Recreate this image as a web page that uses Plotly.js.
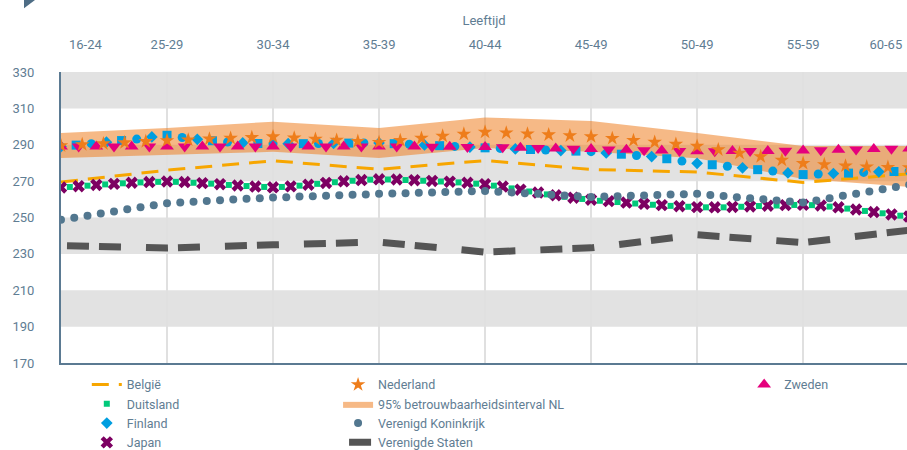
<!DOCTYPE html>
<html><head><meta charset="utf-8">
<script src="https://cdn.plot.ly/plotly-3.0.1.min.js"></script>
<style>html,body{margin:0;padding:0;background:#fff}#chart{width:907px;height:450px}</style>
</head><body><div id="chart"></div>
<script>
// Age groups (x axis, positions 0..8)
const ageGroups = ['16-24','25-29','30-34','35-39','40-44','45-49','50-49','55-59','60-65'];
const yTicks = [170,190,210,230,250,270,290,310,330];

// Series read at the age-group points
const belgie = [269.5, 276.0, 281.2, 276.5, 281.3, 276.4, 275.0, 269.3, 274.0];
const verenigdeStaten = [234.6, 233.2, 235.0, 236.5, 231.0, 233.3, 240.5, 236.2, 243.0];
const nlUpper = [296.5, 299.2, 302.7, 299.2, 305.0, 303.0, 296.5, 289.3, 289.3];
const nlLower = [282.7, 284.6, 286.1, 282.7, 288.2, 286.2, 282.6, 271.2, 266.8];

// Series read along their marker rows
const nederland = [289.5, 290.1, 290.6, 291.2, 291.8, 292.3, 292.7, 293.2, 293.6, 294.0, 294.4,
  293.8, 293.1, 292.5, 291.9, 291.3, 292.4, 293.6, 294.8, 295.9, 297.0,
  296.5, 296.0, 295.5, 295.0, 294.5, 293.5, 292.4, 291.4, 290.3, 289.2,
  287.3, 285.4, 283.5, 281.6, 279.8, 279.1, 278.4, 277.9, 277.6, 277.4];
const zweden = [289.0, 289.1, 289.1, 289.1, 289.0, 289.0, 289.0,
  289.0, 289.0, 289.0, 289.0, 289.0, 289.0,
  289.0, 289.0, 289.1, 289.1, 289.0, 289.0,
  289.0, 289.0, 288.9, 288.9, 288.8, 288.8,
  288.6, 288.4, 288.2, 288.0, 287.8, 287.6,
  287.4, 287.2, 287.0, 286.8, 286.6, 286.4,
  286.4, 286.5, 286.6, 286.6, 286.7, 286.8,
  287.0, 287.2, 287.4, 287.6, 287.8, 288.0];
const finland = [289.0, 289.8, 290.6, 291.4, 292.3, 293.1, 294.3, 295.2,
  294.0, 293.0, 292.2, 291.5, 291.0, 290.7, 290.5,
  290.6, 290.6, 290.7, 290.8, 290.9, 291.0, 291.0,
  290.6, 290.3, 289.9, 289.5, 289.1, 288.7, 288.3,
  288.0, 287.7, 287.4, 287.1, 286.8, 286.5, 286.2,
  285.5, 284.8, 284.1, 283.5, 282.3, 281.0, 279.8,
  279.0, 278.2, 277.3, 276.3, 275.5, 274.5, 273.6,
  273.9, 274.2, 274.4, 274.8, 275.1, 275.3, 275.5];
const japan = [266.5, 267.2, 267.9, 268.5, 269.1, 269.5, 269.8, 269.5, 268.9, 268.3,
  267.6, 267.0, 266.6, 267.1, 268.0, 269.0, 269.9, 270.6, 271.0, 270.9,
  270.5, 270.1, 269.7, 269.1, 268.3, 267.0, 265.3, 263.7, 262.2, 260.9,
  259.8, 259.0, 258.2, 257.5, 256.8, 256.2, 255.7, 255.6, 255.8, 256.1,
  256.5, 256.8, 257.0, 256.6, 255.6, 254.4, 253.0, 251.7, 250.5];
const duitsland = [266.8, 267.5, 268.2, 268.8, 269.3, 269.6, 269.6, 269.1, 268.6, 267.9,
  267.3, 266.8, 266.8, 267.5, 268.5, 269.4, 270.2, 270.8, 270.9, 270.6,
  270.2, 269.8, 269.3, 268.6, 267.5, 266.0, 264.3, 262.7, 261.4, 260.2,
  259.2, 258.5, 257.7, 257.0, 256.4, 255.9, 255.6, 255.6, 255.9, 256.3,
  256.6, 256.9, 256.8, 256.0, 254.9, 253.6, 252.3, 251.0];
const verenigdKoninkrijk = [248.7, 249.9, 251.0, 252.2, 253.3, 254.5, 255.6, 256.8, 257.9,
  258.3, 258.7, 259.1, 259.5, 259.9, 260.3, 260.6, 261.0,
  261.2, 261.5, 261.7, 262.0, 262.2, 262.5, 262.7, 263.0,
  263.2, 263.4, 263.6, 263.8, 264.0, 264.2, 264.4, 264.6,
  264.2, 263.8, 263.4, 263.0, 262.5, 262.1, 261.7, 261.3,
  261.5, 261.7, 261.9, 262.1, 262.4, 262.6, 262.8, 263.0,
  262.4, 261.8, 261.2, 260.6, 260.0, 259.4, 258.8, 258.2,
  259.4, 260.6, 261.9, 263.1, 264.3, 265.5, 266.8, 268.0];

// evenly spaced sample positions along the age axis
const grid = (n, step, offset = 0) => Array.from({length: n}, (_, i) => +(offset + i * step).toFixed(4));
const xAge = grid(ageGroups.length, 1);

const txt = '#5f7d93';
const font = {family: 'Roboto, "Noto Sans", sans-serif', size: 13, color: txt};

const finSymbols = ['diamond', 'square', 'circle'];
const traces = [
  {x: xAge, y: nlLower, mode: 'lines', line: {width: 0, color: 'rgba(0,0,0,0)'}, showlegend: false, hoverinfo: 'skip'},
  {x: xAge, y: nlUpper, mode: 'lines', fill: 'tonexty', fillcolor: 'rgba(238,128,34,0.55)',
   line: {width: 0, color: 'rgba(0,0,0,0)'}, name: '95% betrouwbaarheidsinterval NL', legend: 'legend2', legendrank: 2},
  {x: xAge, y: belgie, mode: 'lines', line: {color: '#f7a600', width: 3, dash: '17px,10px'},
   name: 'België', legend: 'legend', legendrank: 1},
  {x: grid(japan.length, 1/6), y: japan, mode: 'markers', marker: {symbol: 'x', size: 11, color: '#7d0062'},
   name: 'Japan', legend: 'legend', legendrank: 4},
  {x: grid(duitsland.length, 1/6, 1/12), y: duitsland, mode: 'markers', marker: {symbol: 'square', size: 6, color: '#00c97a'},
   name: 'Duitsland', legend: 'legend', legendrank: 2},
  {x: grid(verenigdKoninkrijk.length, 1/8), y: verenigdKoninkrijk, mode: 'markers', marker: {symbol: 'circle', size: 8, color: '#52778f'},
   name: 'Verenigd Koninkrijk', legend: 'legend2', legendrank: 3},
  {x: grid(finland.length, 1/7), y: finland, mode: 'markers',
   marker: {symbol: finland.map((_, i) => finSymbols[i % 3]), size: 9, color: '#009ee0'},
   name: 'Finland', legend: 'legend', legendrank: 3},
  {x: grid(zweden.length, 1/6), y: zweden, mode: 'markers',
   marker: {symbol: zweden.map((_, i) => i % 2 ? 'triangle-down' : 'triangle-up'), size: 12, color: '#e5007d'},
   name: 'Zweden', legend: 'legend3', legendrank: 1},
  {x: grid(nederland.length, 0.2), y: nederland, mode: 'markers', marker: {symbol: 'star', size: 11, color: '#ee7d1b'},
   name: 'Nederland', legend: 'legend2', legendrank: 1},
  {x: xAge, y: verenigdeStaten, xaxis: 'x2', mode: 'lines',
   line: {color: '#555555', width: 7, dash: '0px,6px,22px,10px,22px,19px'},
   name: 'Verenigde Staten', legend: 'legend2', legendrank: 4}
];

const band = (y0, y1) => ({type: 'rect', xref: 'paper', x0: 0, x1: 1, yref: 'y', y0, y1,
  fillcolor: '#e2e2e2', line: {width: 0}, layer: 'below'});

const legendBase = {xanchor: 'left', yanchor: 'top', y: -0.024,
  bgcolor: 'rgba(0,0,0,0)', font: {family: font.family, size: 12.5, color: txt}, traceorder: 'normal'};

const layout = {
  width: 907, height: 450,
  margin: {l: 61, r: 0, t: 72, b: 87, autoexpand: false},
  paper_bgcolor: '#fff', plot_bgcolor: '#fff',
  font: font,
  showlegend: true,
  xaxis: {range: [0, 7.98], dtick: 1, tick0: 0, showgrid: true, gridcolor: '#e0e0e0', gridwidth: 1.5,
    showticklabels: false, ticks: '', zeroline: false, showline: true, linecolor: '#5b7a92', linewidth: 2},
  xaxis2: {overlaying: 'x', matches: 'x', side: 'top', tickmode: 'array',
    tickvals: [0.23, 1, 2, 3, 4, 5, 6, 7, 7.78], ticktext: ageGroups,
    showgrid: false, zeroline: false, showline: false,
    ticks: 'outside', ticklen: 17, tickcolor: 'rgba(0,0,0,0)', tickfont: {size: 13, color: txt},
    title: {text: 'Leeftijd', font: {size: 13, color: txt}, standoff: 8}},
  yaxis: {range: [170, 330], tickmode: 'array', tickvals: yTicks, showgrid: false, zeroline: false,
    showline: true, linecolor: '#5b7a92', linewidth: 2,
    ticks: 'outside', ticklen: 22, tickcolor: 'rgba(0,0,0,0)', tickfont: {size: 13, color: txt}},
  shapes: [band(310, 330), band(270, 290), band(230, 250), band(190, 210),
    {type: 'path', xref: 'paper', yref: 'paper', path: 'M -0.0437 1.2474 L -0.0307 1.2474 L -0.0437 1.2190 Z',
     fillcolor: '#4e6d85', line: {width: 0}}],
  legend: Object.assign({}, legendBase, {x: 0.0305}),
  legend2: Object.assign({}, legendBase, {x: 0.3275}),
  legend3: Object.assign({}, legendBase, {x: 0.8075})
};

Plotly.newPlot('chart', traces, layout, {displayModeBar: false, staticPlot: true});
</script>
</body></html>
